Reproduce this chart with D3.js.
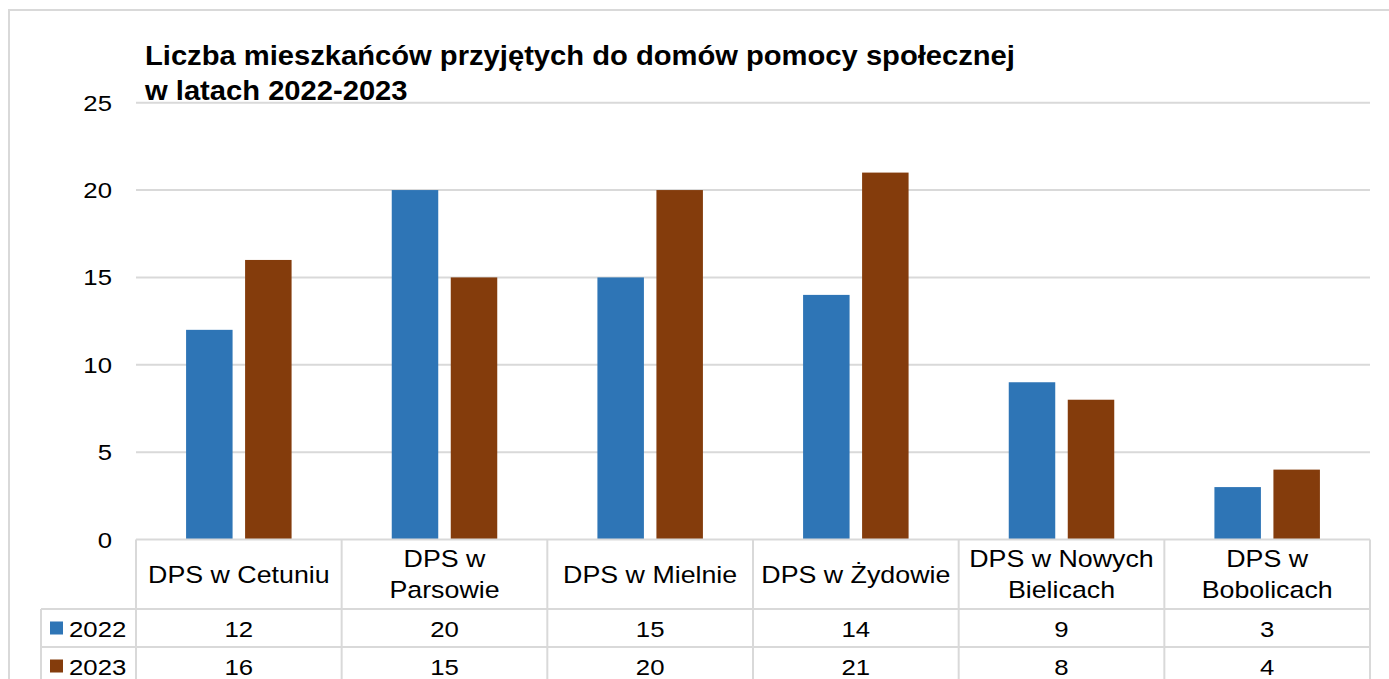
<!DOCTYPE html>
<html>
<head>
<meta charset="utf-8">
<script src="https://cdn.jsdelivr.net/npm/d3@7"></script>
<style>
  body { margin: 0; background: #fff; }
  svg { display: block; font-family: "Liberation Sans", Arial, sans-serif; }
</style>
</head>
<body>
<div id="chart"></div>
<script>
var titleLines = ['Liczba mieszkańców przyjętych do domów pomocy społecznej', 'w latach 2022-2023'];
var categories = [
  ['DPS w Cetuniu'],
  ['DPS w', 'Parsowie'],
  ['DPS w Mielnie'],
  ['DPS w Żydowie'],
  ['DPS w Nowych', 'Bielicach'],
  ['DPS w', 'Bobolicach']
];
var series = ['2022', '2023'];
var colors = ['#2E75B6', '#843C0C'];
var values2022 = [12, 20, 15, 14, 9, 3];
var values2023 = [16, 15, 20, 21, 8, 4];
var yTicks = [0, 5, 10, 15, 20, 25];

var W = 1389, H = 679;
var plotLeft = 136, plotRight = 1370, plotTop = 102.7, plotBottom = 539.5;
var legendLeft = 41;
var headerBottom = 609, rowH = 38;
var gridColor = '#d9d9d9';
var sx = 1.12; // text is drawn slightly wide in the reference

var svg = d3.select('#chart').append('svg')
    .attr('width', W)
    .attr('height', H);

// outer frame
svg.append('rect')
    .attr('x', 9).attr('y', 10)
    .attr('width', W + 20).attr('height', H + 20)
    .attr('fill', 'none')
    .attr('stroke', gridColor)
    .attr('stroke-width', 2);

var x = d3.scaleBand().domain(d3.range(categories.length)).range([plotLeft, plotRight]);
var y = d3.scaleLinear().domain([0, 25]).range([plotBottom, plotTop]);
var inner = d3.scaleBand().domain(series).range([-52.75, 52.75]).paddingInner(0.212);

function txt(g, x0, y0, s, opts) {
  opts = opts || {};
  return g.append('text')
      .attr('transform', 'translate(' + x0 + ',' + y0 + ') scale(' + (opts.sx || sx) + ',1)')
      .attr('text-anchor', opts.anchor || 'middle')
      .attr('font-size', opts.size || 23)
      .attr('font-weight', opts.weight || 'normal')
      .attr('fill', '#000')
      .text(s);
}

// gridlines
svg.append('g').selectAll('line')
    .data(yTicks.filter(function(d) { return d > 0; }))
    .join('line')
      .attr('x1', plotLeft).attr('x2', plotRight)
      .attr('y1', function(d) { return y(d); })
      .attr('y2', function(d) { return y(d); })
      .attr('stroke', gridColor)
      .attr('stroke-width', 2);

// y tick labels
var yl = svg.append('g');
yTicks.forEach(function(t) {
  txt(yl, 112, y(t) + 8, t, {anchor: 'end', size: 22, sx: 1.17});
});

// bars
var data = [values2022, values2023];
var bars = svg.append('g');
series.forEach(function(s, si) {
  bars.selectAll('rect.s' + si)
    .data(data[si])
    .join('rect')
      .attr('class', 's' + si)
      .attr('x', function(d, i) { return x(i) + x.bandwidth() / 2 + inner(s); })
      .attr('width', inner.bandwidth())
      .attr('y', function(d) { return y(d); })
      .attr('height', function(d) { return y(0) - y(d); })
      .attr('fill', colors[si]);
});

// data table
var tbl = svg.append('g');
var tableBottom = headerBottom + rowH * series.length;
// horizontal lines
tbl.append('line').attr('x1', plotLeft).attr('x2', plotRight).attr('y1', y(0)).attr('y2', y(0));
d3.range(series.length + 1).forEach(function(r) {
  var yy = headerBottom + r * rowH;
  tbl.append('line').attr('x1', legendLeft).attr('x2', plotRight).attr('y1', yy).attr('y2', yy);
});
// vertical lines
tbl.append('line').attr('x1', legendLeft).attr('x2', legendLeft).attr('y1', headerBottom).attr('y2', tableBottom);
d3.range(categories.length + 1).forEach(function(i) {
  var xx = i < categories.length ? x(i) : plotRight;
  tbl.append('line').attr('x1', xx).attr('x2', xx).attr('y1', y(0)).attr('y2', tableBottom);
});
tbl.selectAll('line').attr('stroke', gridColor).attr('stroke-width', 2);

// header labels
categories.forEach(function(lines, i) {
  var cx = x(i) + x.bandwidth() / 2;
  var mid = (y(0) + headerBottom) / 2;
  lines.forEach(function(l, li) {
    var by = mid + 8.5 + (li - (lines.length - 1) / 2) * 31;
    txt(tbl, cx, by, l, {size: 23.5, sx: 1.14});
  });
});

// rows
series.forEach(function(s, si) {
  var ry = headerBottom + si * rowH;
  var by = ry + rowH / 2 + 8.5;
  tbl.append('rect')
      .attr('x', 50).attr('y', ry + rowH / 2 - 6.5)
      .attr('width', 13).attr('height', 13)
      .attr('fill', colors[si]);
  txt(tbl, 69, by, s, {anchor: 'start'});
  data[si].forEach(function(v, i) {
    txt(tbl, x(i) + x.bandwidth() / 2, by, v);
  });
});

// title
titleLines.forEach(function(l, i) {
  txt(svg, 145, 65 + i * 35, l, {anchor: 'start', size: 27, weight: 'bold', sx: 1.08});
});
</script>
</body>
</html>
